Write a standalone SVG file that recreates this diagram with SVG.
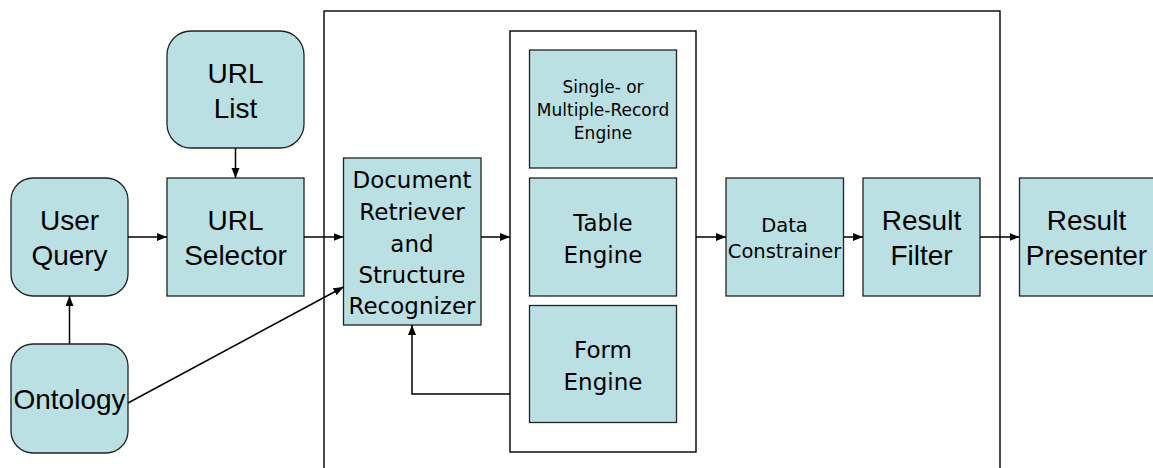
<svg xmlns="http://www.w3.org/2000/svg" width="1153" height="468" viewBox="0 0 1153 468">
<style>
.box{fill:#BBE0E3;stroke:#222;stroke-width:1.3}
.frame{fill:none;stroke:#000;stroke-width:1.4}
.ln{fill:none;stroke:#000;stroke-width:1.5}
.a{font-family:"Liberation Sans",Arial,sans-serif;font-size:28px;fill:#000;text-anchor:middle}
.v{font-family:"DejaVu Sans",Verdana,sans-serif;font-size:23px;fill:#000;text-anchor:middle}
.vs{font-family:"DejaVu Sans",Verdana,sans-serif;font-size:17px;fill:#000;text-anchor:middle}
.vm{font-family:"DejaVu Sans",Verdana,sans-serif;font-size:19.5px;fill:#000;text-anchor:middle}
</style>
<defs>
<marker id="ah" markerUnits="userSpaceOnUse" markerWidth="11" markerHeight="9" refX="10" refY="4" orient="auto">
<path d="M0,0 L10,4 L0,8 z" fill="#000"/>
</marker>
</defs>
<rect width="1153" height="468" fill="#fff"/>
<g id="frames">
<rect class="frame" x="324" y="11" width="676" height="480"/>
<rect class="frame" x="510" y="31" width="186" height="421"/>
</g>
<g id="url-list"><rect class="box" x="167" y="31" width="137" height="117" rx="24"/><text class="a" x="235.5" y="83">URL</text><text class="a" x="235.5" y="118">List</text></g>
<g id="url-selector"><rect class="box" x="167" y="178" width="137" height="118"/><text class="a" x="235.5" y="230">URL</text><text class="a" x="235.5" y="265">Selector</text></g>
<g id="user-query"><rect class="box" x="11" y="178" width="117" height="118" rx="22"/><text class="a" x="69.5" y="230">User</text><text class="a" x="69.5" y="265">Query</text></g>
<g id="ontology"><rect class="box" x="11" y="344" width="117" height="109" rx="22"/><text class="a" x="69.5" y="409">Ontology</text></g>
<g id="doc-retriever"><rect class="box" x="343.5" y="158" width="137.5" height="167"/><text class="v" x="412" y="188">Document</text><text class="v" x="412" y="220">Retriever</text><text class="v" x="412" y="251.5">and</text><text class="v" x="412" y="283">Structure</text><text class="v" x="412" y="314">Recognizer</text></g>
<g id="single-multiple"><rect class="box" x="529.5" y="50" width="147" height="118"/><text class="vs" x="603" y="93">Single- or</text><text class="vs" x="603" y="116">Multiple-Record</text><text class="vs" x="603" y="139">Engine</text></g>
<g id="table-engine"><rect class="box" x="529.5" y="178" width="147" height="118"/><text class="v" x="603" y="231">Table</text><text class="v" x="603" y="263">Engine</text></g>
<g id="form-engine"><rect class="box" x="529.5" y="305.5" width="147" height="117"/><text class="v" x="603" y="358">Form</text><text class="v" x="603" y="390">Engine</text></g>
<g id="data-constrainer"><rect class="box" x="726" y="178" width="117.5" height="118"/><text class="vm" x="784.5" y="232">Data</text><text class="vm" x="784.5" y="258">Constrainer</text></g>
<g id="result-filter"><rect class="box" x="863" y="178" width="117" height="118"/><text class="a" x="921.5" y="230">Result</text><text class="a" x="921.5" y="265">Filter</text></g>
<g id="result-presenter"><rect class="box" x="1019.5" y="178" width="136" height="118"/><text class="a" x="1086.5" y="230">Result</text><text class="a" x="1086.5" y="265">Presenter</text></g>
<g id="connectors">
<line class="ln" x1="235.5" y1="148" x2="235.5" y2="178" marker-end="url(#ah)"/>
<line class="ln" x1="128" y1="237" x2="167" y2="237" marker-end="url(#ah)"/>
<line class="ln" x1="304" y1="237" x2="343.5" y2="237" marker-end="url(#ah)"/>
<line class="ln" x1="69.5" y1="344" x2="69.5" y2="296" marker-end="url(#ah)"/>
<line class="ln" x1="128" y1="403" x2="343.5" y2="287" marker-end="url(#ah)"/>
<line class="ln" x1="481" y1="237" x2="510" y2="237" marker-end="url(#ah)"/>
<polyline class="ln" points="510,394 412,394 412,325" marker-end="url(#ah)"/>
<line class="ln" x1="696" y1="237" x2="726" y2="237" marker-end="url(#ah)"/>
<line class="ln" x1="843.5" y1="237" x2="863" y2="237" marker-end="url(#ah)"/>
<line class="ln" x1="980" y1="237" x2="1019.5" y2="237" marker-end="url(#ah)"/>
</g>
</svg>
